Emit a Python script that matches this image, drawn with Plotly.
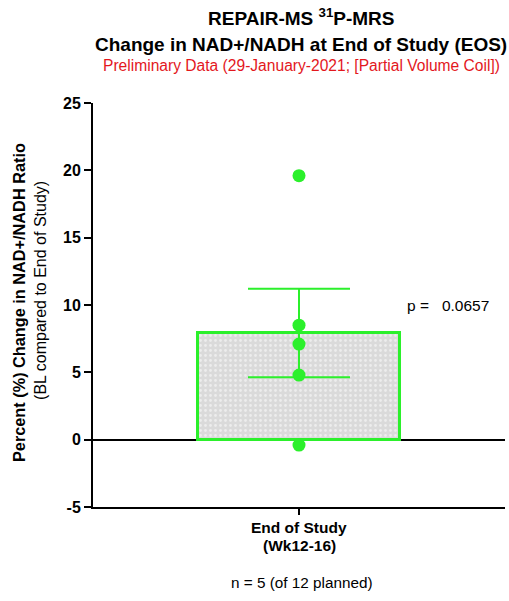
import numpy as np
import plotly.graph_objects as go

# Per-subject percent change in NAD+/NADH ratio (baseline vs end of study)
category = ["End of Study"]
subject_values = [19.6, 8.5, 7.1, 4.8, -0.4]
y_ticks = [-5, 0, 5, 10, 15, 20, 25]
p_value = "0.0657"

vals = np.array(subject_values)
mean_val = vals.mean()
sem_val = vals.std(ddof=1) / np.sqrt(len(vals))

GREEN = "#2bf02b"
FONT = "Liberation Sans, Arial, sans-serif"

fig = go.Figure()

fig.add_trace(go.Bar(
    x=category,
    y=[mean_val],
    width=0.49,
    marker=dict(
        color="#dadada",
        line=dict(color=GREEN, width=3),
        pattern=dict(shape=".", fgcolor="#ffffff", bgcolor="#dadada",
                     size=5, solidity=0.25),
    ),
    error_y=dict(type="data", array=[sem_val], color=GREEN,
                 thickness=2, width=51, visible=True),
    showlegend=False,
))

fig.add_trace(go.Scatter(
    x=category * len(subject_values),
    y=subject_values,
    mode="markers",
    marker=dict(color=GREEN, size=13),
    showlegend=False,
    cliponaxis=False,
))

fig.update_layout(
    width=509, height=601,
    margin=dict(l=93, r=4, t=103, b=94),
    paper_bgcolor="white",
    plot_bgcolor="white",
    font=dict(family=FONT, color="black"),
    bargap=0,
)

fig.update_xaxes(
    range=[-0.5, 0.5],
    showline=True, linecolor="black", linewidth=2,
    ticks="outside", ticklen=6, tickwidth=1.5, tickcolor="black",
    tickvals=category,
    ticktext=[""],
    showgrid=False, zeroline=False,
)

fig.update_yaxes(
    range=[-5, 25],
    tickvals=y_ticks,
    ticktext=[str(v) for v in y_ticks],
    tickfont=dict(size=16, family=FONT, weight="bold"),
    showline=True, linecolor="black", linewidth=2,
    ticks="outside", ticklen=7, tickwidth=2, tickcolor="black",
    showgrid=False,
    zeroline=True, zerolinecolor="black", zerolinewidth=2,
)

ann = []
# Titles above the plot
ann.append(dict(text="<b>REPAIR-MS <sup>31</sup>P-MRS</b>", x=0.505, y=1.213,
                xref="paper", yref="paper", showarrow=False,
                font=dict(size=19, family=FONT), yanchor="middle"))
ann.append(dict(text="<b>Change in NAD+/NADH at End of Study (EOS)</b>", x=0.505, y=1.146,
                xref="paper", yref="paper", showarrow=False,
                font=dict(size=19, family=FONT), yanchor="middle"))
ann.append(dict(text="Preliminary Data (29-January-2021; [Partial Volume Coil])",
                x=0.505, y=1.092, xref="paper", yref="paper", showarrow=False,
                font=dict(size=15.6, family=FONT, color="#e3171d"), yanchor="middle"))
# Y axis title, two lines
ann.append(dict(text="<b>Percent (%) Change in NAD+/NADH Ratio</b>",
                x=-0.180, y=0.507, xref="paper", yref="paper", textangle=-90,
                showarrow=False, font=dict(size=16.3, family=FONT),
                xanchor="center", yanchor="middle"))
ann.append(dict(text="(BL compared to End of Study)",
                x=-0.126, y=0.535, xref="paper", yref="paper", textangle=-90,
                showarrow=False, font=dict(size=16, family=FONT),
                xanchor="center", yanchor="middle"))
# Category label under the x axis
ann.append(dict(text="<b>End of Study</b>", x=0.5, y=-0.05,
                xref="paper", yref="paper", showarrow=False,
                font=dict(size=15.5, family=FONT), yanchor="middle"))
ann.append(dict(text="<b>(Wk12-16)</b>", x=0.5, y=-0.095,
                xref="paper", yref="paper", showarrow=False,
                font=dict(size=15.5, family=FONT), yanchor="middle"))
# p-value
ann.append(dict(text="p = &nbsp;&nbsp;" + p_value, x=0.757, y=10, xref="paper", yref="y",
                xanchor="left", yanchor="middle", showarrow=False,
                font=dict(size=15.5, family=FONT)))
# Sample size note
ann.append(dict(text="n = 5 (of 12 planned)", x=0.507, y=-0.188,
                xref="paper", yref="paper", showarrow=False,
                font=dict(size=15.3, family=FONT), yanchor="middle"))

fig.update_layout(annotations=ann)

fig.write_html("out.html")
